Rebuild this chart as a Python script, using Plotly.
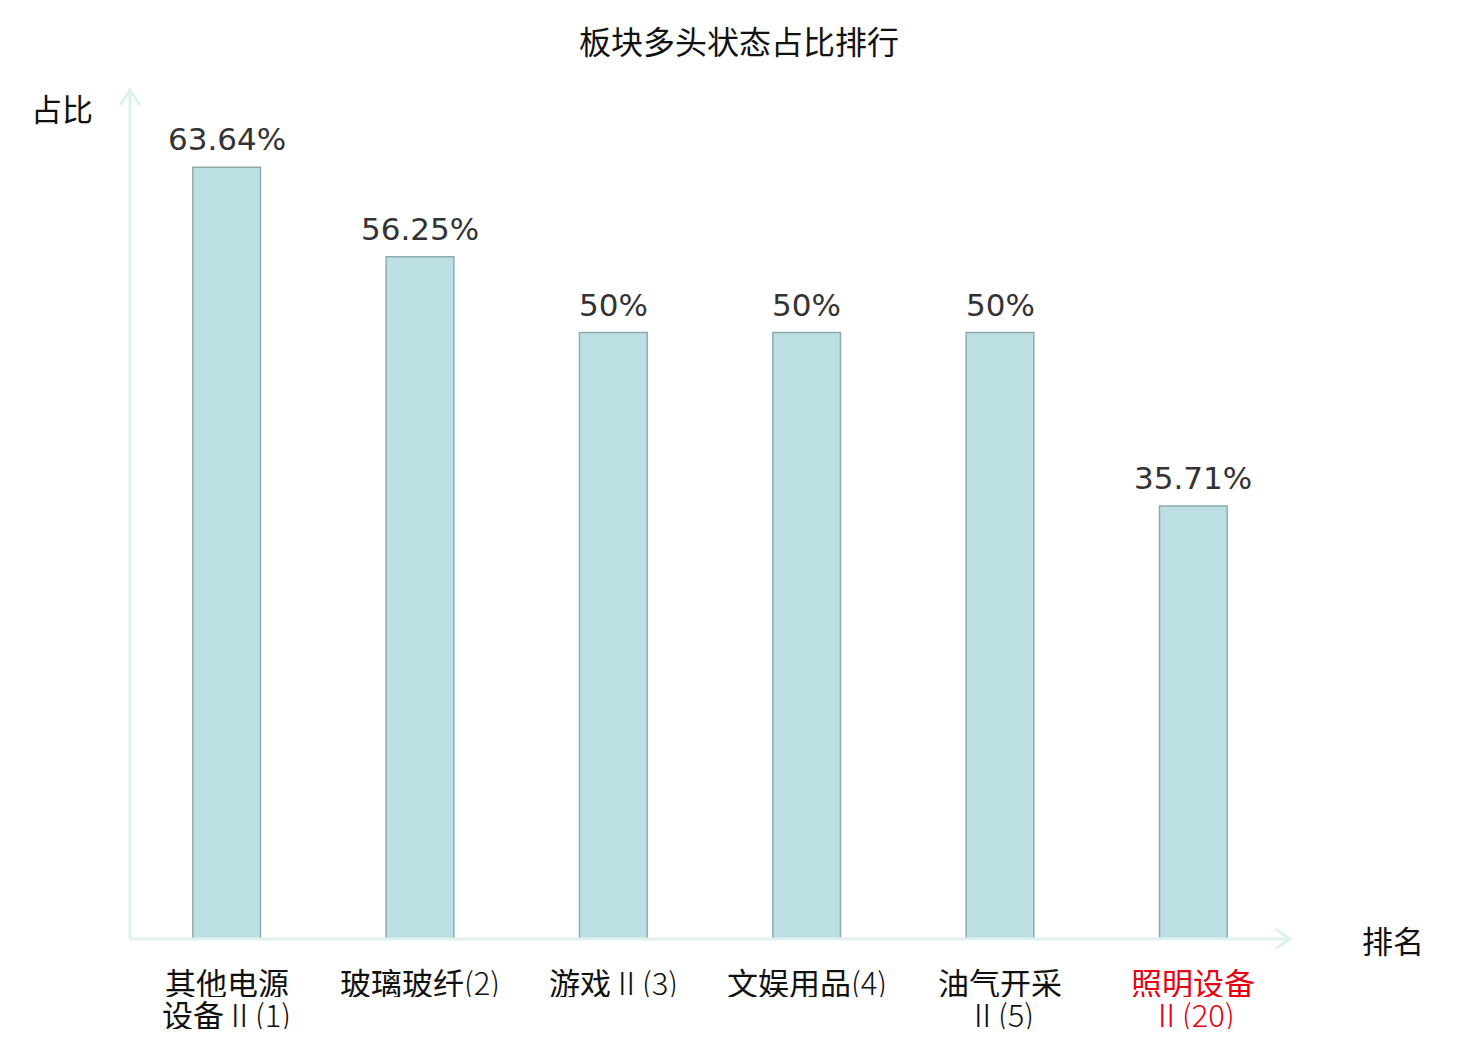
import re
import plotly.graph_objects as go

# 板块多头状态占比排行
categories = ["其他电源<br>设备Ⅱ(1)", "玻璃玻纤(2)", "游戏Ⅱ(3)", "文娱用品(4)", "油气开采<br>Ⅱ(5)", "照明设备<br>Ⅱ(20)"]
values = [63.64, 56.25, 50, 50, 50, 35.71]
value_labels = ["63.64%", "56.25%", "50%", "50%", "50%", "35.71%"]
highlight = [False, False, False, False, False, True]

AXIS_COLOR = "#dff2ef"
CJK = "Noto Sans CJK SC"


def light_part(s):
    # the roman numeral / rank part is drawn thinner, like the original
    return re.sub(r"(Ⅱ?\(\d+\))", r'<span style="font-weight:300">\1</span>', s)


xs = list(range(len(values)))

fig = go.Figure()
fig.add_trace(go.Bar(
    x=xs,
    y=values,
    width=0.35,
    marker=dict(color="#bce0e3", line=dict(color="#8fabab", width=1.5)),
    hoverinfo="skip",
))

fig.update_xaxes(
    range=[-0.5, len(values) - 0.5],
    showticklabels=False, automargin=False,
    showgrid=False, zeroline=False, showline=False, ticks="",
)
fig.update_yaxes(
    range=[0, 70],
    showticklabels=False, automargin=False,
    showgrid=False, zeroline=False, showline=False, ticks="",
)

shapes = []
line = dict(color=AXIS_COLOR, width=3)
# axes with open arrowheads
shapes.append(dict(type="line", xref="paper", yref="paper", x0=0, y0=0, x1=0, y1=1, line=line))
shapes.append(dict(type="line", xref="paper", yref="paper", x0=0, y0=0, x1=1, y1=0, line=line))
shapes.append(dict(type="path", xref="paper", yref="paper",
                   path="M -0.0086,0.982 L 0,1 L 0.0086,0.982", line=line))
shapes.append(dict(type="path", xref="paper", yref="paper",
                   path="M 0.987,0.0118 L 1,0 L 0.987,-0.0118", line=line))

annotations = [
    dict(x=x, y=v, text=t, xref="x", yref="y", xanchor="center", yanchor="bottom",
         yshift=8, showarrow=False, font=dict(family="DejaVu Sans", size=31, color="#333333"))
    for x, v, t in zip(xs, values, value_labels)
]
# category labels, one annotation per line for the tight line spacing of the original
for x, cat, red in zip(xs, categories, highlight):
    color = "#e60012" if red else "#111111"
    for k, part in enumerate(cat.split("<br>")):
        annotations.append(dict(
            x=x, y=0, xref="x", yref="paper", text=light_part(part),
            xanchor="center", yanchor="middle", yshift=-42 - 32 * k, showarrow=False,
            height=32, borderpad=0,
            font=dict(family=CJK, size=31, color=color),
        ))
annotations += [
    dict(text="占比", xref="paper", yref="paper", x=-0.030, y=1.0, xanchor="right", yanchor="top",
         yshift=7, showarrow=False, font=dict(family=CJK, size=31, color="#111111")),
    dict(text="排名", xref="paper", yref="paper", x=1.06, y=0, xanchor="left", yanchor="middle",
         showarrow=False, font=dict(family=CJK, size=31, color="#111111")),
]

fig.update_layout(
    width=1480, height=1040,
    margin=dict(l=122, r=198, t=82, b=109),
    title=dict(text="板块多头状态占比排行", x=0.494, xanchor="center", y=0.9665, yanchor="middle",
               font=dict(family=CJK, size=32, color="#111111")),
    paper_bgcolor="white", plot_bgcolor="white",
    showlegend=False,
    shapes=shapes,
    annotations=annotations,
)

fig.write_html("out.html")
